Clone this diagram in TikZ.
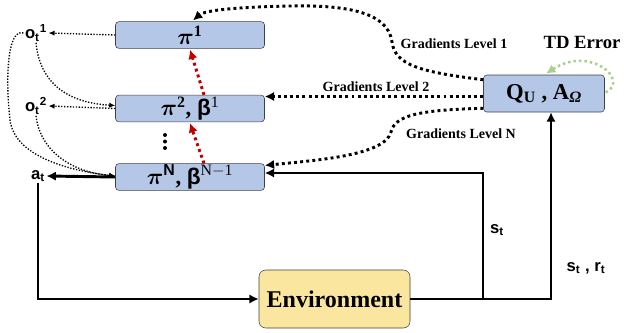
\documentclass[tikz,border=0pt]{standalone}
\usepackage{amsmath,bm}
\usepackage{fontspec}
\setmainfont{Liberation Serif}
\setsansfont{Liberation Sans}
\usepackage{tikz}
\usetikzlibrary{calc}
\usetikzlibrary{arrows.meta}

\definecolor{boxblue}{RGB}{180,199,231}
\definecolor{envyellow}{RGB}{250,230,158}
\definecolor{tdgreen}{RGB}{169,209,142}
\definecolor{gradred}{RGB}{192,0,0}

\newcommand{\betab}{{\sffamily\bfseries β}}

\begin{document}
\begin{tikzpicture} [
    x=0.75pt, y=-0.75pt,
    pibox/.style = {draw=black!75, fill=boxblue, rounded corners=2.5pt, minimum width=111.75pt, minimum height=20pt, inner sep=0pt, font=\fontsize{17}{20}\selectfont},
    qbox/.style = {pibox, minimum width=90.75pt, minimum height=27.75pt, font=\fontsize{17}{18}\selectfont\bfseries},
    envbox/.style = {pibox, fill=envyellow, minimum width=113.25pt, minimum height=43.5pt, rounded corners=5pt, font=\fontsize{18}{20}\selectfont\bfseries},
    lab/.style = {inner sep=1pt, font=\fontsize{12.5}{13}\selectfont\sffamily\bfseries},
    gradlab/.style = {inner sep=1pt, font=\fontsize{10.5}{12}\selectfont\bfseries},
    thindot/.style = {line width=1pt, dash pattern=on 1pt off 1.2pt, -{Latex[length=4.5pt,width=4pt]}},
    graddot/.style = {line width=2.2pt, dash pattern=on 2.2pt off 2.4pt, -{Latex[length=7pt,width=7pt]}},
    reddot/.style = {graddot, color=gradred},
    greendot/.style = {graddot, line width=1.9pt, dash pattern=on 1.9pt off 2.2pt, color=tdgreen},
    solidline/.style = {line width=2.2pt, -{Latex[length=7pt,width=7pt]}}
]
    \useasboundingbox (0,0) rectangle (624,332);

    \node [pibox] (pi1) at (190,35) {$\bm{\pi}^{\mathbf{1}}$};
    \node [pibox] (pi2) at (190,108.5) {$\bm{\pi}^{\mathbf{2}}$\textbf{,} \betab$^{\mathrm{1}}$};
    \node [pibox] (piN) at (190,177) {$\bm{\pi}^{\textsf{\textbf{N}}}$\textbf{,} \betab$^{\mathrm{N-1}}$};
    \foreach \y in {135,141.5,148}
        \fill (165,\y) circle (1.5pt);
    \node [qbox] (Q) at (544,93.5) {Q\textsubscript{U} , A\textsubscript{\textit{Ω}}};
    \node [envbox] (env) at (334.5,299) {Environment};

    \node [lab] (o1) at (36,33) {o\textsubscript{t}\textsuperscript{1}};
    \node [lab] (o2) at (36,106) {o\textsubscript{t}\textsuperscript{2}};
    \node [lab] (at) at (38,176) {a\textsubscript{t}};
    \node [lab] (st) at (497,230) {s\textsubscript{t}};
    \node [lab] (str) at (586,268) {s\textsubscript{t} , r\textsubscript{t}};
    \node [gradlab] (g1) at (454,44) {Gradients Level 1};
    \node [gradlab] (g2) at (376,87) {Gradients Level 2};
    \node [gradlab] (gN) at (461,134) {Gradients Level N};
    \node [gradlab, font=\fontsize{14}{15}\selectfont\bfseries] (td) at (582,42) {TD Error};

    \coordinate (split) at (483,300);
    \coordinate (q2) at ($(Q.west)+(0,3)$);

    % policies to observations and action
    \draw [thindot] (pi1.west) -- (o1.east);
    \draw [thindot] (pi2.west) -- (o2.east);
    \draw [solidline] (piN.west) -- (at.east);
    \draw [thindot] (o1.south) .. controls (40,85) and (70,103) .. ($(pi2.west)+(0,-3)$);
    \draw [thindot] (o1.west) .. controls (8,28) and (5,75) .. (10,120) .. controls (15,160) and (80,172) .. ($(piN.west)+(0,-1)$);
    \draw [thindot] (o2.south) .. controls (40,150) and (70,172) .. ($(piN.west)+(0,-1)$);

    % level to level
    \draw [reddot] ($(piN.north)+(14,0)$) -- ($(pi2.south)+(0,1)$);
    \draw [reddot] ($(pi2.north)+(14,0)$) -- ($(pi1.south)+(0,1)$);

    % critic gradients
    \draw [graddot] ($(Q.north west)+(0,5)$) .. controls (420,72) and (395,65) .. (392,42) .. controls (388,10) and (340,5) .. (290,6) .. controls (240,7) and (205,10) .. ($(pi1.north)+(3,-1)$);
    \draw [graddot] (q2) -- (q2 -| pi2.east);
    \draw [graddot] ($(Q.south west)+(0,-4)$) .. controls (420,110) and (395,115) .. (391,132) .. controls (385,155) and (320,160) .. ($(piN.north east)+(0,2)$);
    \draw [greendot] ($(Q.east)+(1,-1)$) .. controls (630,80) and (590,45) .. ($(Q.north)+(2,-1)$);

    % environment loop
    \draw [solidline] (at.south) |- (env.west);
    \draw [solidline] (env.east) -| ($(Q.south)+(7,0)$);
    \draw [solidline] (split) |- ($(piN.east)+(0,-4)$);
\end{tikzpicture}
\end{document}
